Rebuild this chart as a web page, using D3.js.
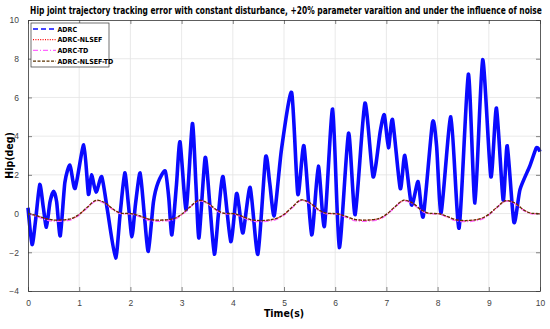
<!DOCTYPE html>
<html>
<head>
<meta charset="utf-8">
<script src="https://cdn.jsdelivr.net/npm/d3@7"></script>
<style>
  body { margin: 0; background: #fff; }
  svg text { font-family: "Liberation Sans Narrow", "DejaVu Sans Condensed", "Liberation Sans", sans-serif; }
</style>
</head>
<body>
<div id="chart"></div>
<script>
// ADRC error (peaks / valleys)
const timeAdrc = [0.00,0.08,0.15,0.23,0.30,0.36,0.43,0.50,0.56,0.63,0.72,0.82,0.92,1.09,1.18,1.24,1.33,1.44,1.55,1.71,
  1.80,1.89,1.96,2.03,2.10,2.19,2.27,2.35,2.45,2.54,2.68,2.75,2.81,2.90,2.97,3.09,3.21,3.28,3.34,3.46,
  3.55,3.64,3.72,3.81,3.96,4.07,4.12,4.20,4.34,4.49,4.64,4.72,4.81,4.95,5.15,5.27,5.39,5.54,5.67,5.79,
  5.95,6.08,6.26,6.39,6.58,6.74,6.88,6.96,7.04,7.12,7.27,7.36,7.49,7.62,7.72,7.90,7.98,8.07,8.26,8.42,
  8.60,8.73,8.88,9.04,9.15,9.28,9.36,9.49,9.61,9.80,9.93,10.0];
const adrc = [0.3,-1.6,-0.3,1.5,0.3,-0.7,0.6,1.15,0.6,-1.15,1.6,2.5,1.3,3.55,1.0,2.0,1.1,1.9,0.2,-2.3,
  0.0,2.1,0.5,-1.2,0.5,2.1,0.0,-1.95,0.6,1.6,2.2,0.8,-1.1,1.5,3.7,0.2,4.65,1.5,-1.25,2.9,
  0.5,-2.1,0.0,1.9,-1.45,1.0,0.4,-1.0,1.35,-2.1,2.9,1.6,-0.1,3.3,6.25,1.0,3.5,-1.1,2.45,-0.65,
  5.4,-1.75,4.15,-0.05,5.7,1.9,4.25,5.1,3.4,4.85,1.3,3.0,0.45,1.65,-0.15,4.7,3.5,0.05,5.0,-0.75,
  7.2,0.55,7.95,1.9,5.45,0.7,3.5,-0.45,1.25,2.45,3.4,3.2];

// smooth controllers (nearly identical curves)
const timeSmooth = [0,0.15,0.4,0.55,0.8,1.0,1.15,1.35,1.5,1.7,1.85,2.0,
  2.15,2.4,2.55,2.8,3.0,3.15,3.35,3.5,3.7,3.85,4.0,
  4.15,4.4,4.55,4.8,5.0,5.15,5.35,5.5,5.7,5.85,6.0,
  6.15,6.4,6.55,6.8,7.0,7.15,7.35,7.5,7.7,7.85,8.0,
  8.15,8.4,8.55,8.8,9.0,9.15,9.35,9.5,9.7,9.85,10.0];
const nlsef = [0,-0.1,-0.3,-0.35,-0.3,-0.05,0.3,0.68,0.55,0.15,0.0,0.0,
  -0.1,-0.32,-0.35,-0.3,-0.05,0.3,0.68,0.55,0.15,0.0,0.0,
  -0.12,-0.35,-0.37,-0.3,-0.05,0.3,0.7,0.55,0.15,0.0,0.0,
  -0.1,-0.32,-0.35,-0.3,-0.05,0.3,0.68,0.55,0.15,0.0,0.0,
  -0.12,-0.35,-0.37,-0.3,-0.05,0.3,0.66,0.55,0.15,0.0,0.0];
const tdOnly = [0,-0.13,-0.36,-0.4,-0.35,-0.08,0.28,0.66,0.52,0.12,-0.02,-0.02,
  -0.13,-0.38,-0.4,-0.35,-0.08,0.28,0.66,0.52,0.12,-0.02,-0.02,
  -0.15,-0.4,-0.42,-0.35,-0.08,0.28,0.68,0.52,0.12,-0.02,-0.02,
  -0.13,-0.38,-0.4,-0.35,-0.08,0.28,0.66,0.52,0.12,-0.02,-0.02,
  -0.15,-0.4,-0.42,-0.35,-0.08,0.28,0.64,0.52,0.12,-0.02,-0.02];
const nlsefTd = [0,-0.09,-0.29,-0.34,-0.29,-0.04,0.31,0.69,0.56,0.16,0.01,0.0,
  -0.09,-0.31,-0.34,-0.29,-0.04,0.31,0.69,0.56,0.16,0.01,0.0,
  -0.11,-0.34,-0.36,-0.29,-0.04,0.31,0.71,0.56,0.16,0.01,0.0,
  -0.09,-0.31,-0.34,-0.29,-0.04,0.31,0.69,0.56,0.16,0.01,0.0,
  -0.11,-0.34,-0.36,-0.29,-0.04,0.31,0.67,0.56,0.16,0.01,0.0];

const xTicks = [0,1,2,3,4,5,6,7,8,9,10];
const yTicks = [-4,-2,0,2,4,6,8,10];
const legendNames = ["ADRC","ADRC-NLSEF","ADRC-TD","ADRC-NLSEF-TD"];

const margin = {top: 20, right: 10, bottom: 38, left: 28};
const W = 550, H = 329;
const width = W - margin.left - margin.right;
const height = H - margin.top - margin.bottom;

const svg = d3.select("#chart").append("svg")
    .attr("width", W).attr("height", H);
const g = svg.append("g")
    .attr("transform", "translate(" + margin.left + "," + margin.top + ")");

const x = d3.scaleLinear().domain([0, 10]).range([0, width]);
const y = d3.scaleLinear().domain([-4, 10]).range([height, 0]);

// grid
g.append("g").selectAll("line").data(xTicks.slice(1, -1)).enter().append("line")
    .attr("x1", d => x(d)).attr("x2", d => x(d))
    .attr("y1", 0).attr("y2", height)
    .attr("stroke", "#e3e3e3").attr("stroke-width", 0.8);
g.append("g").selectAll("line").data(yTicks.slice(1, -1)).enter().append("line")
    .attr("y1", d => y(d)).attr("y2", d => y(d))
    .attr("x1", 0).attr("x2", width)
    .attr("stroke", "#e3e3e3").attr("stroke-width", 0.8);

// lines
const series = [
    {name: "ADRC", t: timeAdrc, v: adrc, color: "#0a0aff", w: 3.6, dash: null, curve: d3.curveCardinal.tension(0.35)},
    {name: "ADRC-NLSEF", t: timeSmooth, v: nlsef, color: "#ff0000", w: 1.3, dash: "1,1.4", curve: d3.curveMonotoneX},
    {name: "ADRC-TD", t: timeSmooth, v: tdOnly, color: "#ff66ff", w: 1.3, dash: "5,2,1,2", curve: d3.curveMonotoneX},
    {name: "ADRC-NLSEF-TD", t: timeSmooth, v: nlsefTd, color: "#5a3200", w: 1.3, dash: "3,1.5", curve: d3.curveMonotoneX}
];

series.forEach(s => {
    const line = d3.line()
        .x((d, i) => x(s.t[i]))
        .y(d => y(d))
        .curve(s.curve);
    g.append("path")
        .datum(s.v)
        .attr("d", line)
        .attr("fill", "none")
        .attr("stroke", s.color)
        .attr("stroke-width", s.w)
        .attr("stroke-linejoin", "round")
        .attr("stroke-dasharray", s.dash);
});

// axes, MATLAB box style with inward ticks
const axColor = "#333";
g.append("g").attr("transform", "translate(0," + height + ")")
    .call(d3.axisBottom(x).tickValues(xTicks).tickSizeInner(-4).tickSizeOuter(0).tickPadding(9));
g.append("g")
    .call(d3.axisLeft(y).tickValues(yTicks).tickSizeInner(-4).tickSizeOuter(0).tickPadding(9));
g.append("g")
    .call(d3.axisTop(x).tickValues(xTicks).tickSizeInner(-4).tickSizeOuter(0).tickFormat(""));
g.append("g").attr("transform", "translate(" + width + ",0)")
    .call(d3.axisRight(y).tickValues(yTicks).tickSizeInner(-4).tickSizeOuter(0).tickFormat(""));
g.selectAll(".domain").attr("stroke", axColor).attr("stroke-width", 0.8);
g.selectAll(".tick line").attr("stroke", axColor).attr("stroke-width", 0.6);
g.selectAll(".tick text").attr("fill", "#444").style("font-size", "8.5px")
    .style("font-family", "'Liberation Sans', Arial, sans-serif");

// axis labels and title
svg.append("text")
    .attr("x", margin.left + width / 2).attr("y", 317)
    .attr("text-anchor", "middle")
    .style("font-size", "10.5px").style("font-weight", "bold")
    .text("Time(s)");
svg.append("text")
    .attr("transform", "translate(13," + (margin.top + height / 2) + ") rotate(-90)")
    .attr("text-anchor", "middle")
    .style("font-size", "10.5px").style("font-weight", "bold")
    .text("Hip(deg)");
const title = svg.append("text")
    .attr("text-anchor", "middle")
    .style("font-size", "10.5px").style("font-weight", "bold")
    .text("Hip joint trajectory tracking error with constant disturbance, +20% parameter varaition and under the influence of noise");
// squeeze the title horizontally so it spans the plot width like the original
const natural = title.node().getComputedTextLength();
const squeeze = Math.min(1, 512 / natural);
title.attr("transform", "translate(" + (margin.left + width / 2 + 2) + ",14) scale(" + squeeze + ",1)");

// legend
const legend = g.append("g").attr("transform", "translate(3,3)");
legend.append("rect")
    .attr("width", 78).attr("height", 44)
    .attr("fill", "#fff").attr("stroke", "#333").attr("stroke-width", 0.7);
const item = legend.selectAll(".item").data(series).enter().append("g")
    .attr("transform", (d, i) => "translate(0," + (6 + i * 10.7) + ")");
item.append("line")
    .attr("x1", 2).attr("x2", 25).attr("y1", 0).attr("y2", 0)
    .attr("stroke", d => d.color)
    .attr("stroke-width", 1.3)
    .attr("stroke-dasharray", (d, i) => i === 0 ? "5,3" : d.dash);
item.append("text")
    .attr("x", 26.5).attr("y", 2.5)
    .style("font-size", "7px").style("font-weight", "bold")
    .text((d, i) => legendNames[i]);
</script>
</body>
</html>
